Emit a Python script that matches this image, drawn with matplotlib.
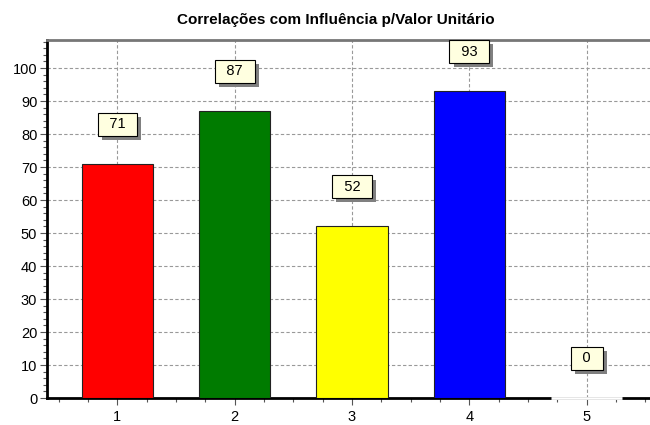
import matplotlib
matplotlib.use("Agg")
import matplotlib.pyplot as plt
from matplotlib.ticker import MultipleLocator
import matplotlib.patheffects as pe

plt.rcParams['font.family'] = ['Liberation Sans', 'DejaVu Sans']

categories = [1, 2, 3, 4, 5]
values = [71, 87, 52, 93, 0]
colors = ['#ff0000', '#007b00', '#ffff00', '#0000ff', '#ffffff']
title = "Correlações com Influência p/Valor Unitário"

fig = plt.figure(figsize=(6.5, 4.25), dpi=100)
ax = fig.add_axes([47/650, 1 - 398/425, 1 - 47/650, (398 - 40)/425])

bars = ax.bar(categories, values, width=0.61, color=colors, edgecolor='#222222',
              linewidth=0.8, zorder=3)
# zero-height bar drawn over the spine (white gap)
bars[-1].set_edgecolor('white')
bars[-1].set_linewidth(2)
bars[-1].set_zorder(4)
bars[-1].set_clip_on(False)

ax.set_xlim(0.4, 5.54)
ax.set_ylim(0, 108.5)

ax.xaxis.set_major_locator(MultipleLocator(1))
ax.xaxis.set_minor_locator(MultipleLocator(0.25))
ax.yaxis.set_major_locator(MultipleLocator(10))
ax.yaxis.set_minor_locator(MultipleLocator(2))

ax.tick_params(axis='both', which='major', length=5, width=0.8, colors='#555555',
               labelcolor='black', labelsize=10.5, direction='out')
ax.tick_params(axis='both', which='minor', length=3, width=0.8, colors='#555555',
               direction='out')
ax.tick_params(axis='x', pad=3.5)
ax.tick_params(axis='y', pad=2)

ax.grid(True, which='major', color='#999999', linestyle=(0, (3, 2)), linewidth=0.8, zorder=0)
ax.set_axisbelow(True)

ax.spines['left'].set_linewidth(2)
ax.spines['left'].set_color('black')
ax.spines['bottom'].set_linewidth(2)
ax.spines['bottom'].set_color('black')
ax.spines['top'].set_linewidth(2)
ax.spines['top'].set_color('#777777')
ax.spines['right'].set_visible(False)

pad_chars = "\u2002"
for x, v in zip(categories, values):
    t = ax.text(x, v + 12, f"{pad_chars}{v}{pad_chars}", ha='center', va='center',
                fontsize=10.5, zorder=6,
                bbox=dict(boxstyle='square,pad=0.3', facecolor='#ffffe0',
                          edgecolor='black', linewidth=0.8))
    t.get_bbox_patch().set_path_effects([
        pe.SimplePatchShadow(offset=(3, -3), shadow_rgbFace='#808080', alpha=1),
        pe.Normal()])

fig.text(336/650, 1 - 20/425, title, ha='center', va='center', fontsize=11,
         fontweight='bold')

fig.savefig('out.png', dpi=100)
